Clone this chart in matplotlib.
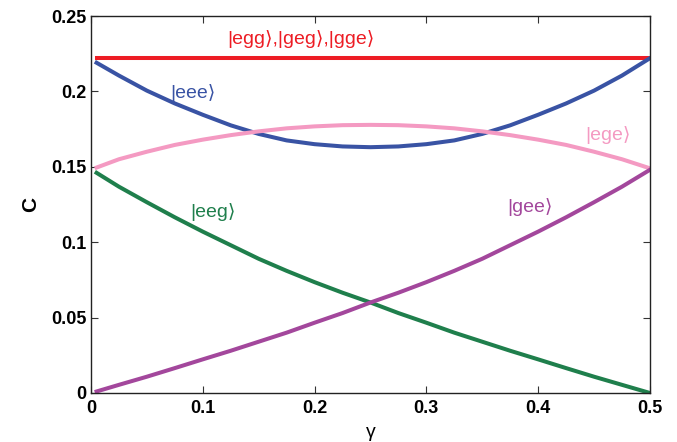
import matplotlib
matplotlib.use("Agg")
import matplotlib.pyplot as plt

# gamma sample points
gamma = [0.005, 0.025, 0.05, 0.075, 0.1, 0.125, 0.15, 0.175, 0.2, 0.225, 0.25,
         0.275, 0.3, 0.325, 0.35, 0.375, 0.4, 0.425, 0.45, 0.475, 0.5]

c_egg = [0.2222] * len(gamma)
c_eee = [0.219, 0.2105, 0.2005, 0.192, 0.1845, 0.1775, 0.1718, 0.1675, 0.1650, 0.1635, 0.163,
         0.1635, 0.1650, 0.1675, 0.1718, 0.1775, 0.1845, 0.192, 0.2005, 0.2105, 0.222]
c_ege = [0.1495, 0.155, 0.160, 0.1645, 0.168, 0.171, 0.1735, 0.1755, 0.1768, 0.1776, 0.1778,
         0.1776, 0.1768, 0.1755, 0.1735, 0.171, 0.168, 0.1645, 0.160, 0.155, 0.149]
c_eeg = [0.146, 0.1368, 0.1265, 0.1165, 0.107, 0.098, 0.089, 0.081, 0.0735, 0.0665, 0.060,
         0.053, 0.0466, 0.040, 0.034, 0.028, 0.0223, 0.0165, 0.0108, 0.0054, 0.0]
c_gee = [0.001, 0.0054, 0.0108, 0.0165, 0.0223, 0.028, 0.034, 0.040, 0.0466, 0.053, 0.060,
         0.0665, 0.0735, 0.081, 0.089, 0.098, 0.107, 0.1165, 0.1265, 0.1368, 0.148]

xticks = [0, 0.1, 0.2, 0.3, 0.4, 0.5]
xtick_labels = ["0", "0.1", "0.2", "0.3", "0.4", "0.5"]
yticks = [0, 0.05, 0.1, 0.15, 0.2, 0.25]
ytick_labels = ["0", "0.05", "0.1", "0.15", "0.2", "0.25"]

RED = "#ED1C24"
BLUE = "#3953A4"
PINK = "#F49AC2"
GREEN = "#1F7F4C"
PURPLE = "#A3479C"

fam = ["Liberation Sans", "DejaVu Sans"]
plt.rcParams["font.family"] = fam

fig = plt.figure(figsize=(6.77, 4.42), dpi=100)
ax = fig.add_axes([0.1344, 0.1109, 0.8256, 0.8529])

lw = 2.9
ax.plot(gamma, c_egg, color=RED, linewidth=lw)
ax.plot(gamma, c_eee, color=BLUE, linewidth=lw)
ax.plot(gamma, c_ege, color=PINK, linewidth=lw)
ax.plot(gamma, c_eeg, color=GREEN, linewidth=lw)
ax.plot(gamma, c_gee, color=PURPLE, linewidth=lw)

fs = 14
ax.text(0.188, 0.2345, "|egg\u27e9,|geg\u27e9,|gge\u27e9", color=RED, fontsize=fs,
        ha="center", va="center", family=fam)
ax.text(0.0707, 0.199, "|eee\u27e9", color=BLUE, fontsize=fs, ha="left", va="center", family=fam)
ax.text(0.442, 0.171, "|ege\u27e9", color=PINK, fontsize=fs, ha="left", va="center", family=fam)
ax.text(0.0886, 0.120, "|eeg\u27e9", color=GREEN, fontsize=fs, ha="left", va="center", family=fam)
ax.text(0.372, 0.1236, "|gee\u27e9", color=PURPLE, fontsize=fs, ha="left", va="center", family=fam)

ax.set_xlim(0, 0.5)
ax.set_ylim(0, 0.25)
ax.set_xticks(xticks)
ax.set_xticklabels(xtick_labels, fontsize=13, fontweight="bold")
ax.set_yticks(yticks)
ax.set_yticklabels(ytick_labels, fontsize=13, fontweight="bold")
ax.tick_params(direction="in", length=5, width=0.8, top=True, right=True, color="#333333")
ax.tick_params(axis="x", pad=5)
for s in ax.spines.values():
    s.set_linewidth(1.0)
    s.set_color("#222222")

ax.set_xlabel("\u03b3", fontsize=14, labelpad=5)
ax.set_ylabel("C", fontsize=15, fontweight="bold", labelpad=8)

fig.savefig("out.png", dpi=100)
